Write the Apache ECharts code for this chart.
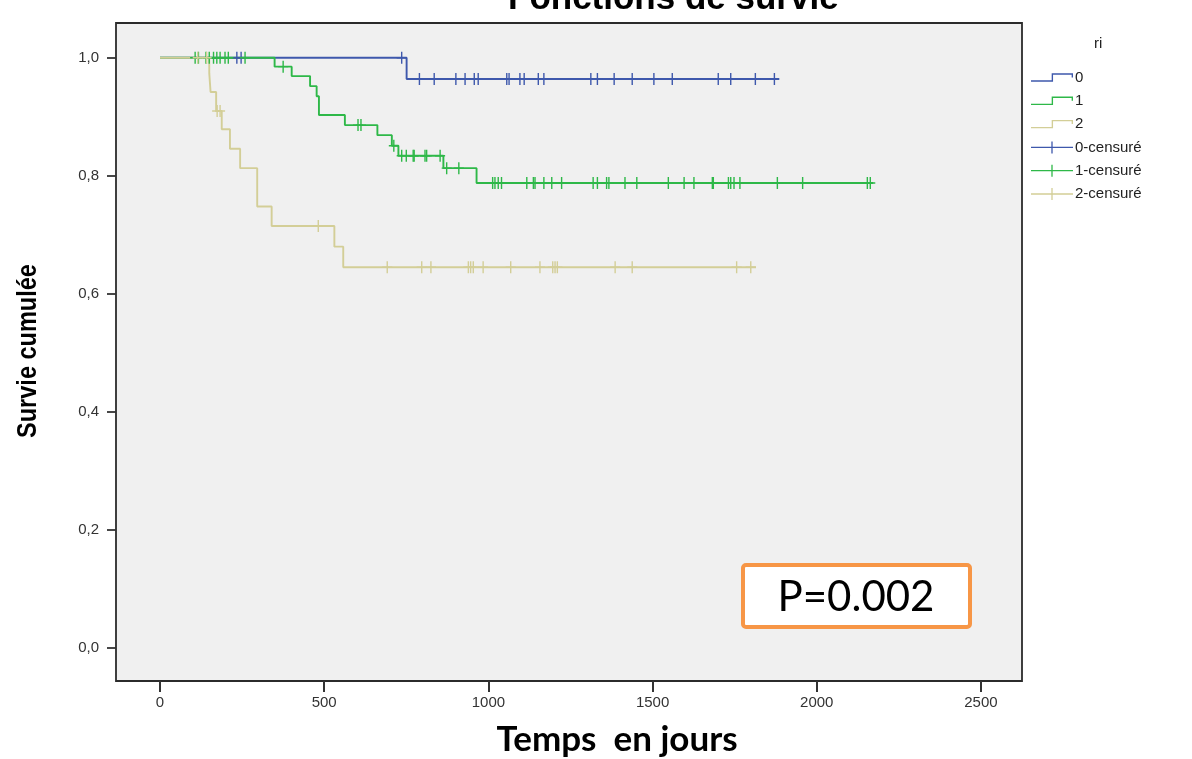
<!DOCTYPE html>
<html>
<head>
<meta charset="utf-8">
<script src="https://cdn.jsdelivr.net/npm/echarts@6/dist/echarts.min.js"></script>
<style>
html,body{margin:0;padding:0;background:#fff;}
#chart{width:1192px;height:759px;}
</style>
</head>
<body>
<div id="chart"></div>
<script>
// ---- Data ----
var groupNames = ['0', '1', '2'];
var censorNames = ['0-censuré', '1-censuré', '2-censuré'];

// Kaplan-Meier step points: [time, survival] (last point = end of follow-up)
var steps0 = [[0, 1], [751, 0.964], [1885, 0.964]];
var steps1 = [[0, 1], [349, 0.985], [401, 0.969], [457, 0.952], [477, 0.935], [484, 0.903],
              [563, 0.886], [662, 0.869], [706, 0.851], [726, 0.834], [863, 0.813],
              [964, 0.788], [2172, 0.788]];
var steps2 = [[0, 1], [150, 0.974], [154, 0.942], [171, 0.910], [188, 0.879], [213, 0.846],
              [244, 0.813], [296, 0.748], [340, 0.715], [531, 0.680], [558, 0.645],
              [1815, 0.645]];

// Censored times
var cens0 = [234, 247, 736, 790, 835, 901, 929, 957, 969, 1056, 1063, 1096, 1109, 1152, 1169,
             1312, 1332, 1383, 1438, 1504, 1560, 1700, 1738, 1813, 1871];
var cens1 = [107, 117, 140, 150, 163, 173, 183, 198, 208, 259, 375, 603, 612, 712,
             736, 750, 771, 774, 807, 812, 853, 873, 910,
             1013, 1020, 1030, 1040, 1117, 1137, 1142, 1169, 1193, 1223, 1319, 1332, 1360, 1367,
             1416, 1452, 1548, 1596, 1626, 1682, 1685, 1731, 1738, 1748, 1766, 1880, 1957, 2154, 2163];
var cens2 = [115, 142, 174, 183, 482, 692, 797, 825, 939, 946, 954, 984, 1068, 1157, 1196, 1203,
             1210, 1386, 1438, 1756, 1799];

var xTicks = [0, 500, 1000, 1500, 2000, 2500];
var yTicks = [0, 0.2, 0.4, 0.6, 0.8, 1.0];

var colors = ['#3e58ac', '#2eb848', '#d3ce97'];

// ---- Helpers ----
function survAt(steps, t) {
  var s = steps[0][1];
  for (var i = 0; i < steps.length; i++) { if (steps[i][0] <= t) s = steps[i][1]; }
  return s;
}
function censorPoints(steps, times) {
  return times.map(function (t) { return [t, survAt(steps, t)]; });
}

var plusSymbol = 'path://M4.3,0 H5.7 V5.3 H10 V6.7 H5.7 V12 H4.3 V6.7 H0 V5.3 H4.3 Z';
var stepIcon = 'path://M0,6.7 H19.7 V0 H40 V4 H38.7 V1.3 H21 V8 H0 Z';
var plusIcon = 'path://M0,5.35 H20.35 V0 H21.65 V5.35 H42 V6.65 H21.65 V12 H20.35 V6.65 H0 Z';

var allSteps = [steps0, steps1, steps2];
var allCens = [cens0, cens1, cens2];

var series = [];
for (var g = 0; g < 3; g++) {
  series.push({
    name: groupNames[g], type: 'line', step: 'end', data: allSteps[g],
    showSymbol: false, symbol: 'none', z: 2 + g,
    lineStyle: { color: colors[g], width: 1.9 }, itemStyle: { color: colors[g] },
    emphasis: { disabled: true }
  });
}
for (var g2 = 0; g2 < 3; g2++) {
  series.push({
    name: censorNames[g2], type: 'scatter', data: censorPoints(allSteps[g2], allCens[g2]),
    symbol: plusSymbol, symbolSize: [10, 12], symbolKeepAspect: false, z: 5 + g2,
    itemStyle: { color: colors[g2], opacity: 1 }, emphasis: { disabled: true }
  });
}

var legendData = groupNames.map(function (n) { return { name: n, icon: stepIcon }; })
  .concat(censorNames.map(function (n) { return { name: n, icon: plusIcon }; }));

var chart = echarts.init(document.getElementById('chart'), null, { renderer: 'canvas' });
chart.setOption({
  animation: false,
  backgroundColor: '#ffffff',
  title: [
    { text: 'Fonctions de survie', left: 508, top: -18, padding: 0,
      textStyle: { fontFamily: 'Liberation Sans', fontWeight: 'bold', fontSize: 35, color: '#000' } },
    { text: 'ri', left: 1094, top: 36, padding: 0,
      textStyle: { fontFamily: 'Liberation Sans', fontWeight: 'normal', fontSize: 15, color: '#222' } }
  ],
  legend: {
    orient: 'vertical', left: 1031, top: 70, padding: 0,
    itemWidth: 42, itemHeight: 14, itemGap: 8.3,
    data: legendData,
    textStyle: { fontFamily: 'Liberation Sans', fontSize: 15, color: '#222', lineHeight: 14, padding: [0, 0, 0, -3] },
    selectedMode: false
  },
  grid: {
    left: 116, right: 170, top: 23, bottom: 78,
    show: true, backgroundColor: '#f0f0f0', borderColor: '#2b2b2b', borderWidth: 1.8,
    containLabel: false, outerBoundsMode: 'none'
  },
  xAxis: {
    type: 'value', min: -134, max: 2625,
    name: 'Temps  en jours', nameLocation: 'middle', nameGap: 41,
    nameTextStyle: { fontFamily: 'Lato', fontWeight: 'bold', fontSize: 35, color: '#000', padding: [0, 0, 0, 96] },
    axisLine: { show: false, onZero: false },
    splitLine: { show: false },
    axisTick: { show: true, inside: false, length: 11, customValues: xTicks,
                lineStyle: { color: '#333', width: 2 } },
    axisLabel: { customValues: xTicks, margin: 14, fontFamily: 'Liberation Sans', fontSize: 15, color: '#333',
                 formatter: function (v) { return String(v); } }
  },
  yAxis: {
    type: 'value', min: -0.056, max: 1.059,
    axisLine: { show: false, onZero: false },
    splitLine: { show: false },
    axisTick: { show: true, inside: false, length: 9, customValues: yTicks,
                lineStyle: { color: '#333', width: 1.8 } },
    axisLabel: { customValues: yTicks, margin: 17, fontFamily: 'Liberation Sans', fontSize: 15, color: '#333',
                 formatter: function (v) { return v.toFixed(1).replace('.', ','); } }
  },
  graphic: [
    { type: 'text', z: 50, x: 28, y: 351, rotation: Math.PI / 2, scaleX: 0.84, scaleY: 1,
      style: { text: 'Survie cumulée', fontFamily: 'Liberation Sans', fontWeight: 'bold', fontSize: 28,
               fill: '#000', align: 'center', verticalAlign: 'middle' } },
    { type: 'rect', z: 100, shape: { x: 743, y: 565, width: 227, height: 62, r: 3 },
      style: { fill: '#ffffff', stroke: '#f79646', lineWidth: 4 } },
    { type: 'text', z: 101, x: 856, y: 597,
      style: { text: 'P=0.002', fontFamily: 'Lato', fontSize: 42, fill: '#000', align: 'center', verticalAlign: 'middle' } }
  ],
  series: series
});
</script>
</body>
</html>
